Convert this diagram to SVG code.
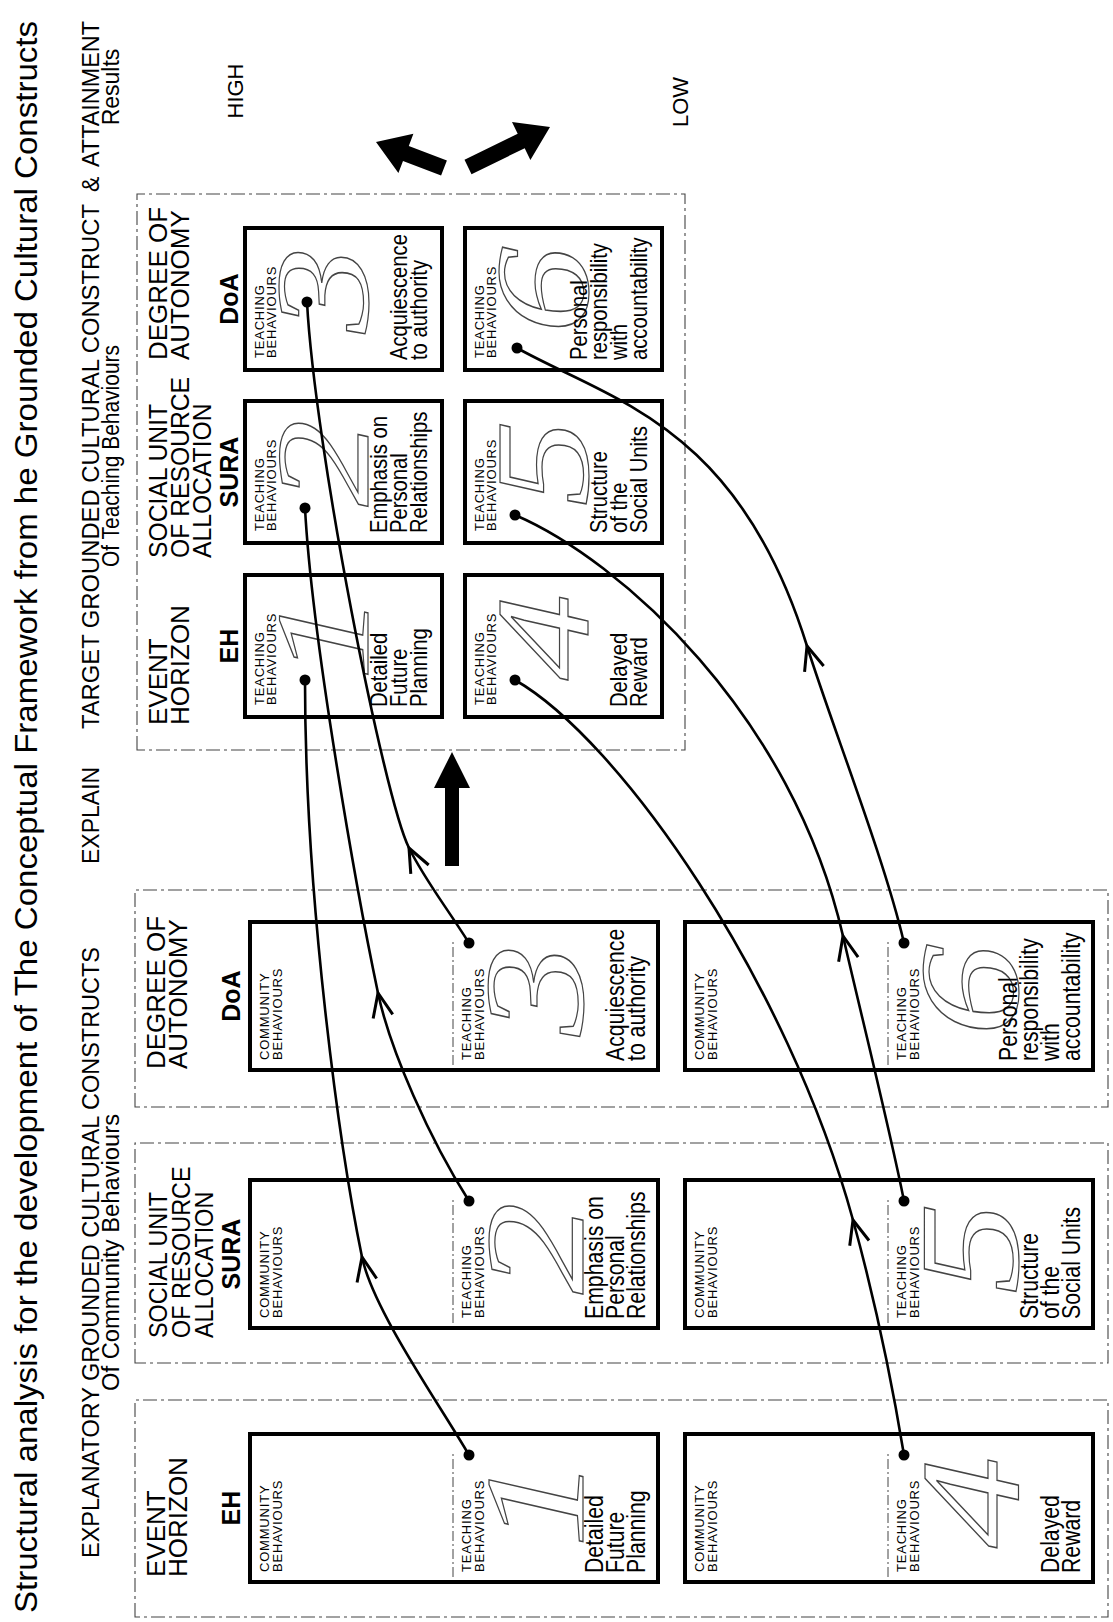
<svg xmlns="http://www.w3.org/2000/svg" width="1113" height="1622" viewBox="0 0 1113 1622">
<defs>
<style>
.t{font-family:"Liberation Sans",Arial,sans-serif;fill:#000}
.ttl{font-size:32px}
.hd{font-size:23px}
.col{font-size:26px}
.bold{font-size:25px;font-weight:bold;text-anchor:middle}
.sm{font-size:13px;letter-spacing:0.8px}
.desc{font-size:25px}
.desct{font-size:23px}
.dig{font-family:"Liberation Serif","Times New Roman",serif;font-style:italic;fill:#fff;stroke:#444;stroke-width:1.2;text-anchor:middle}
.box{fill:#fff;stroke:#000;stroke-width:4}
.frame{fill:none;stroke:#444;stroke-width:1.1;stroke-dasharray:14 4 3 4}
.div{fill:none;stroke:#444;stroke-width:1;stroke-dasharray:10 3 2 3}
.conn{fill:none;stroke:#000;stroke-width:2.6;marker-mid:url(#chev)}
.big{fill:#000}
</style>
<marker id="chev" viewBox="-30 -15 34 30" markerWidth="34" markerHeight="30" refX="0" refY="0" orient="auto" markerUnits="userSpaceOnUse">
<path d="M-24,-10 L0,0 L-24,10" fill="none" stroke="#000" stroke-width="3"/>
</marker>
</defs>
<rect width="1113" height="1622" fill="#fff"/>

<g transform="matrix(0 -1 1 0 0 1622)">
  <g id="headings">
    <text class="t ttl" x="9" y="37" textLength="1592" lengthAdjust="spacingAndGlyphs">Structural analysis for the development of The Conceptual Framework from he Grounded Cultural Constructs</text>
    <text class="t hd" x="64" y="99" textLength="611" lengthAdjust="spacingAndGlyphs">EXPLANATORY GROUNDED CULTURAL CONSTRUCTS</text>
    <text class="t hd" x="231" y="119" textLength="277" lengthAdjust="spacingAndGlyphs">Of Community Behaviours</text>
    <text class="t hd" x="758" y="99">EXPLAIN</text>
    <text class="t hd" x="893" y="99" textLength="525" lengthAdjust="spacingAndGlyphs">TARGET GROUNDED CULTURAL CONSTRUCT</text>
    <text class="t hd" x="1430" y="99">&amp;</text>
    <text class="t hd" x="1455" y="99" textLength="146" lengthAdjust="spacingAndGlyphs">ATTAINMENT</text>
    <text class="t hd" x="1055" y="119" textLength="222" lengthAdjust="spacingAndGlyphs">Of Teaching Behaviours</text>
    <text class="t hd" x="1535" y="119" text-anchor="middle">Results</text>
    <text class="t" x="1531" y="243" font-size="22" text-anchor="middle">HIGH</text>
    <text class="t" x="1520" y="688" font-size="22" text-anchor="middle">LOW</text>
  </g>

  <g id="col-expl-eh">
    <rect class="frame" x="5" y="135" width="217" height="973"/>
    <text class="t col" x="45" y="165">EVENT</text>
    <text class="t col" x="45" y="187">HORIZON</text>
    <text class="t bold" x="114" y="240">EH</text>
  </g>
  <g id="col-expl-sura">
    <rect class="frame" x="259" y="135" width="220" height="973"/>
    <g transform="translate(284,0) scale(0.9,1)">
      <text class="t col" x="0" y="167">SOCIAL UNIT</text>
      <text class="t col" x="0" y="190">OF RESOURCE</text>
      <text class="t col" x="0" y="213">ALLOCATION</text>
    </g>
    <text class="t bold" x="368" y="240">SURA</text>
  </g>
  <g id="col-expl-doa">
    <rect class="frame" x="515" y="135" width="217" height="973"/>
    <text class="t col" x="553" y="165">DEGREE OF</text>
    <text class="t col" x="553" y="187">AUTONOMY</text>
    <text class="t bold" x="626" y="240">DoA</text>
  </g>
  <g id="col-target">
    <rect class="frame" x="872" y="137" width="556" height="548"/>
    <text class="t col" x="897" y="167">EVENT</text>
    <text class="t col" x="897" y="189">HORIZON</text>
    <text class="t bold" x="976" y="238">EH</text>
    <g transform="translate(1064,0) scale(0.95,1)">
      <text class="t col" x="0" y="167">SOCIAL UNIT</text>
      <text class="t col" x="0" y="189">OF RESOURCE</text>
      <text class="t col" x="0" y="211">ALLOCATION</text>
    </g>
    <text class="t bold" x="1150" y="238">SURA</text>
    <text class="t col" x="1262" y="167">DEGREE OF</text>
    <text class="t col" x="1262" y="189">AUTONOMY</text>
    <text class="t bold" x="1323" y="238">DoA</text>
  </g>

  <g id="expl-1" transform="translate(40,250)">
    <rect class="box" width="148" height="408"/>
    <text class="t sm" x="10" y="19">COMMUNITY</text><text class="t sm" x="10" y="32">BEHAVIOURS</text>
    <path class="div" d="M5 203H129"/>
    <text class="t sm" x="10" y="221">TEACHING</text><text class="t sm" x="10" y="234">BEHAVIOURS</text>
    <g transform="translate(80,333) scale(1.3,1)"><text class="dig" x="0" y="0" font-size="142">1</text></g>
    <g transform="translate(9,395) scale(0.85,1)"><text class="t desc"><tspan x="0" y="-42">Detailed</tspan><tspan x="0" y="-21">Future</tspan><tspan x="0" y="0">Planning</tspan></text></g>
  </g>
  <g id="expl-2" transform="translate(294,250)">
    <rect class="box" width="148" height="408"/>
    <text class="t sm" x="10" y="19">COMMUNITY</text><text class="t sm" x="10" y="32">BEHAVIOURS</text>
    <path class="div" d="M5 203H129"/>
    <text class="t sm" x="10" y="221">TEACHING</text><text class="t sm" x="10" y="234">BEHAVIOURS</text>
    <g transform="translate(80,333) scale(1.3,1)"><text class="dig" x="0" y="0" font-size="142">2</text></g>
    <g transform="translate(9,395) scale(0.85,1)"><text class="t desc"><tspan x="0" y="-42">Emphasis on</tspan><tspan x="0" y="-21">Personal</tspan><tspan x="0" y="0">Relationships</tspan></text></g>
  </g>
  <g id="expl-3" transform="translate(552,250)">
    <rect class="box" width="148" height="408"/>
    <text class="t sm" x="10" y="19">COMMUNITY</text><text class="t sm" x="10" y="32">BEHAVIOURS</text>
    <path class="div" d="M5 203H129"/>
    <text class="t sm" x="10" y="221">TEACHING</text><text class="t sm" x="10" y="234">BEHAVIOURS</text>
    <g transform="translate(80,333) scale(1.3,1)"><text class="dig" x="0" y="0" font-size="142">3</text></g>
    <g transform="translate(9,395) scale(0.85,1)"><text class="t desc"><tspan x="0" y="-21">Acquiescence</tspan><tspan x="0" y="0">to authority</tspan></text></g>
  </g>
  <g id="expl-4" transform="translate(40,685)">
    <rect class="box" width="148" height="408"/>
    <text class="t sm" x="10" y="19">COMMUNITY</text><text class="t sm" x="10" y="32">BEHAVIOURS</text>
    <path class="div" d="M5 203H129"/>
    <text class="t sm" x="10" y="221">TEACHING</text><text class="t sm" x="10" y="234">BEHAVIOURS</text>
    <g transform="translate(80,333) scale(1.3,1)"><text class="dig" x="0" y="0" font-size="142">4</text></g>
    <g transform="translate(9,395) scale(0.85,1)"><text class="t desc"><tspan x="0" y="-21">Delayed</tspan><tspan x="0" y="0">Reward</tspan></text></g>
  </g>
  <g id="expl-5" transform="translate(294,685)">
    <rect class="box" width="148" height="408"/>
    <text class="t sm" x="10" y="19">COMMUNITY</text><text class="t sm" x="10" y="32">BEHAVIOURS</text>
    <path class="div" d="M5 203H129"/>
    <text class="t sm" x="10" y="221">TEACHING</text><text class="t sm" x="10" y="234">BEHAVIOURS</text>
    <g transform="translate(80,333) scale(1.3,1)"><text class="dig" x="0" y="0" font-size="142">5</text></g>
    <g transform="translate(9,395) scale(0.85,1)"><text class="t desc"><tspan x="0" y="-42">Structure</tspan><tspan x="0" y="-21">of the</tspan><tspan x="0" y="0">Social Units</tspan></text></g>
  </g>
  <g id="expl-6" transform="translate(552,685)">
    <rect class="box" width="148" height="408"/>
    <text class="t sm" x="10" y="19">COMMUNITY</text><text class="t sm" x="10" y="32">BEHAVIOURS</text>
    <path class="div" d="M5 203H129"/>
    <text class="t sm" x="10" y="221">TEACHING</text><text class="t sm" x="10" y="234">BEHAVIOURS</text>
    <g transform="translate(80,333) scale(1.3,1)"><text class="dig" x="0" y="0" font-size="142">6</text></g>
    <g transform="translate(9,395) scale(0.85,1)"><text class="t desc"><tspan x="0" y="-63">Personal</tspan><tspan x="0" y="-42">responsibility</tspan><tspan x="0" y="-21">with</tspan><tspan x="0" y="0">accountability</tspan></text></g>
  </g>

  <g id="target-1" transform="translate(905,245)">
    <rect class="box" width="142" height="197"/>
    <text class="t sm" x="12" y="19">TEACHING</text><text class="t sm" x="12" y="31">BEHAVIOURS</text>
    <g transform="translate(80,123) scale(1.3,1)"><text class="dig" x="0" y="0" font-size="134">1</text></g>
    <g transform="translate(10,182) scale(0.88,1)"><text class="t desct"><tspan x="0" y="-40">Detailed</tspan><tspan x="0" y="-20">Future</tspan><tspan x="0" y="0">Planning</tspan></text></g>
  </g>
  <g id="target-2" transform="translate(1079,245)">
    <rect class="box" width="142" height="197"/>
    <text class="t sm" x="12" y="19">TEACHING</text><text class="t sm" x="12" y="31">BEHAVIOURS</text>
    <g transform="translate(80,123) scale(1.3,1)"><text class="dig" x="0" y="0" font-size="134">2</text></g>
    <g transform="translate(10,182) scale(0.88,1)"><text class="t desct"><tspan x="0" y="-40">Emphasis on</tspan><tspan x="0" y="-20">Personal</tspan><tspan x="0" y="0">Relationships</tspan></text></g>
  </g>
  <g id="target-3" transform="translate(1252,245)">
    <rect class="box" width="142" height="197"/>
    <text class="t sm" x="12" y="19">TEACHING</text><text class="t sm" x="12" y="31">BEHAVIOURS</text>
    <g transform="translate(80,123) scale(1.3,1)"><text class="dig" x="0" y="0" font-size="134">3</text></g>
    <g transform="translate(10,182) scale(0.88,1)"><text class="t desct"><tspan x="0" y="-20">Acquiescence</tspan><tspan x="0" y="0">to authority</tspan></text></g>
  </g>
  <g id="target-4" transform="translate(905,465)">
    <rect class="box" width="142" height="197"/>
    <text class="t sm" x="12" y="19">TEACHING</text><text class="t sm" x="12" y="31">BEHAVIOURS</text>
    <g transform="translate(80,123) scale(1.3,1)"><text class="dig" x="0" y="0" font-size="134">4</text></g>
    <g transform="translate(10,182) scale(0.88,1)"><text class="t desct"><tspan x="0" y="-20">Delayed</tspan><tspan x="0" y="0">Reward</tspan></text></g>
  </g>
  <g id="target-5" transform="translate(1079,465)">
    <rect class="box" width="142" height="197"/>
    <text class="t sm" x="12" y="19">TEACHING</text><text class="t sm" x="12" y="31">BEHAVIOURS</text>
    <g transform="translate(80,123) scale(1.3,1)"><text class="dig" x="0" y="0" font-size="134">5</text></g>
    <g transform="translate(10,182) scale(0.88,1)"><text class="t desct"><tspan x="0" y="-40">Structure</tspan><tspan x="0" y="-20">of the</tspan><tspan x="0" y="0">Social Units</tspan></text></g>
  </g>
  <g id="target-6" transform="translate(1252,465)">
    <rect class="box" width="142" height="197"/>
    <text class="t sm" x="12" y="19">TEACHING</text><text class="t sm" x="12" y="31">BEHAVIOURS</text>
    <g transform="translate(80,123) scale(1.3,1)"><text class="dig" x="0" y="0" font-size="134">6</text></g>
    <g transform="translate(10,182) scale(0.88,1)"><text class="t desct"><tspan x="0" y="-60">Personal</tspan><tspan x="0" y="-40">responsibility</tspan><tspan x="0" y="-20">with</tspan><tspan x="0" y="0">accountability</tspan></text></g>
  </g>
</g>

<g id="connectors">
  <path class="conn" d="M469,1455 C440,1405 373,1310 362,1257 C340,1150 305,900 305,680"/>
  <path class="conn" d="M469,1201 C430,1140 390,1050 378,993 C357,893 312,640 305,508"/>
  <path class="conn" d="M469,943 C445,905 425,880 409,848 C384,798 315,450 307,302"/>
  <path class="conn" d="M904,1455 C890,1370 875,1300 853,1220 C787,980 620,740 515,680"/>
  <path class="conn" d="M904,1201 C890,1130 860,1010 843,936 C792,714 620,560 515,515"/>
  <path class="conn" d="M904,943 C885,860 830,720 807,646 C738,424 610,400 517,348"/>
  <g fill="#000">
    <circle cx="469" cy="1455" r="5.5"/><circle cx="469" cy="1201" r="5.5"/><circle cx="469" cy="943" r="5.5"/>
    <circle cx="904" cy="1455" r="5.5"/><circle cx="904" cy="1201" r="5.5"/><circle cx="904" cy="943" r="5.5"/>
    <circle cx="305" cy="680" r="5.5"/><circle cx="305" cy="508" r="5.5"/><circle cx="307" cy="302" r="5.5"/>
    <circle cx="515" cy="680" r="5.5"/><circle cx="515" cy="515" r="5.5"/><circle cx="517" cy="348" r="5.5"/>
  </g>
</g>

<g id="big-arrows">
  <polygon class="big" points="445,866 445,788 434,788 452,752 470,788 459,788 459,866"/>
  <polygon class="big" points="446.9,160.5 408.8,145.9 413.4,133.8 376,142 398.4,173 403,160.9 441.1,175.5"/>
  <polygon class="big" points="471.5,174.2 524.7,148.2 530.4,159.9 550,127 512,122.1 517.7,133.8 464.5,159.8"/>
</g>
</svg>
